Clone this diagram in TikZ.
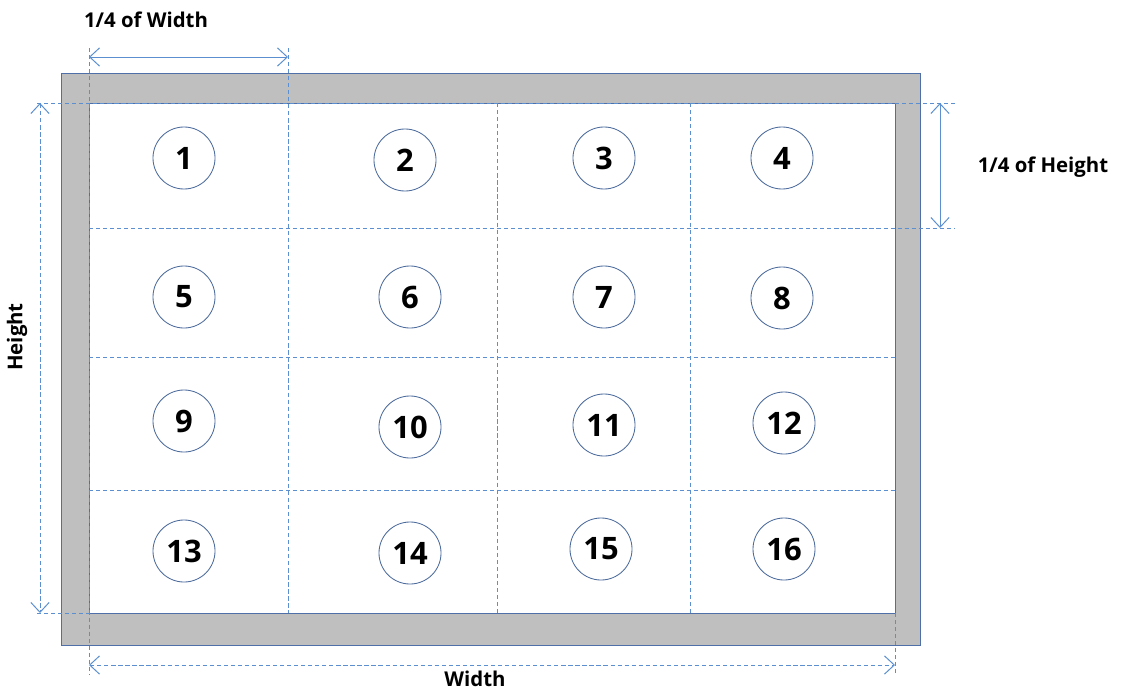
\documentclass[tikz,border=0pt]{standalone}
\usepackage{fontspec}
\setmainfont{Open Sans}
\usetikzlibrary{arrows.meta}

\definecolor{gridblue}{HTML}{5B8FD0}
\definecolor{edgeblue}{HTML}{4F6FA8}
\definecolor{framegray}{HTML}{BFBFBF}
\definecolor{ringblue}{HTML}{4A6A9C}

\begin{document}
\begin{tikzpicture}[
  x=0.025cm, y=-0.025cm,
  cell/.style={circle, draw=ringblue, line width=0.6pt, fill=white,
    minimum size=1.55cm, inner sep=0pt,
    font=\bfseries\fontsize{22}{22}\selectfont},
  guide/.style={draw=gridblue, densely dashed, line width=0.5pt},
  dim/.style={{Straight Barb[length=7pt,width=13pt]}-{Straight Barb[length=7pt,width=13pt]},
    draw=gridblue, line width=0.7pt},
  dimdash/.style={dim, densely dashed},
  caption/.style={font=\bfseries\fontsize{14.5}{14.5}\selectfont, inner sep=1pt}
]
\useasboundingbox (0,0) rectangle (1123,690);

% frame and image area
\fill[framegray] (61,73) rectangle (920,645);
\draw[edgeblue, line width=0.7pt] (61,73) rectangle (920,645);
\fill[white] (89,103) rectangle (895,613);
\draw[edgeblue, line width=0.7pt] (89,103) rectangle (895,613);

% grid
\draw[guide] (89,48) -- (89,675);
\draw[guide] (288,48) -- (288,613);
\draw[guide] (497,103) -- (497,613);
\draw[guide] (690,103) -- (690,613);
\draw[guide] (895,613) -- (895,675);
\draw[guide] (37,103) -- (955,103);
\draw[guide] (89,228) -- (955,228);
\draw[guide] (89,357) -- (895,357);
\draw[guide] (89,490) -- (895,490);
\draw[guide] (37,613) -- (89,613);

\node[cell] (c1) at (184,158) {1};
\node[cell] (c2) at (405,160) {2};
\node[cell] (c3) at (604,158) {3};
\node[cell] (c4) at (782,158) {4};
\node[cell] (c5) at (184,297) {5};
\node[cell] (c6) at (410,297) {6};
\node[cell] (c7) at (604,297) {7};
\node[cell] (c8) at (782,298) {8};
\node[cell] (c9) at (184,421) {9};
\node[cell] (c10) at (410,427) {10};
\node[cell] (c11) at (604,425) {11};
\node[cell] (c12) at (784,423) {12};
\node[cell] (c13) at (184,551) {13};
\node[cell] (c14) at (410,553) {14};
\node[cell] (c15) at (601,549) {15};
\node[cell] (c16) at (784,549) {16};

% dimensions
\coordinate (quarterwL) at (89,57);
\coordinate (quarterwR) at (288,57);
\coordinate (quarterhT) at (940,103);
\coordinate (quarterhB) at (940,228);
\coordinate (heightT) at (40,103);
\coordinate (heightB) at (40,613);
\coordinate (widthL) at (89,665);
\coordinate (widthR) at (895,665);
\draw[dim] (quarterwL) -- (quarterwR);
\draw[dim] (quarterhT) -- (quarterhB);
\draw[dimdash] (heightT) -- (heightB);
\draw[dimdash] (widthL) -- (widthR);

\node[caption] (quarterw) at (146,20) {1/4 of Width};
\node[caption] (quarterh) at (1043,167) {1/4 of Height};
\node[caption, rotate=90] (height) at (17,337) {Height};
\node[caption] (width) at (475,679) {Width};
\end{tikzpicture}
\end{document}
